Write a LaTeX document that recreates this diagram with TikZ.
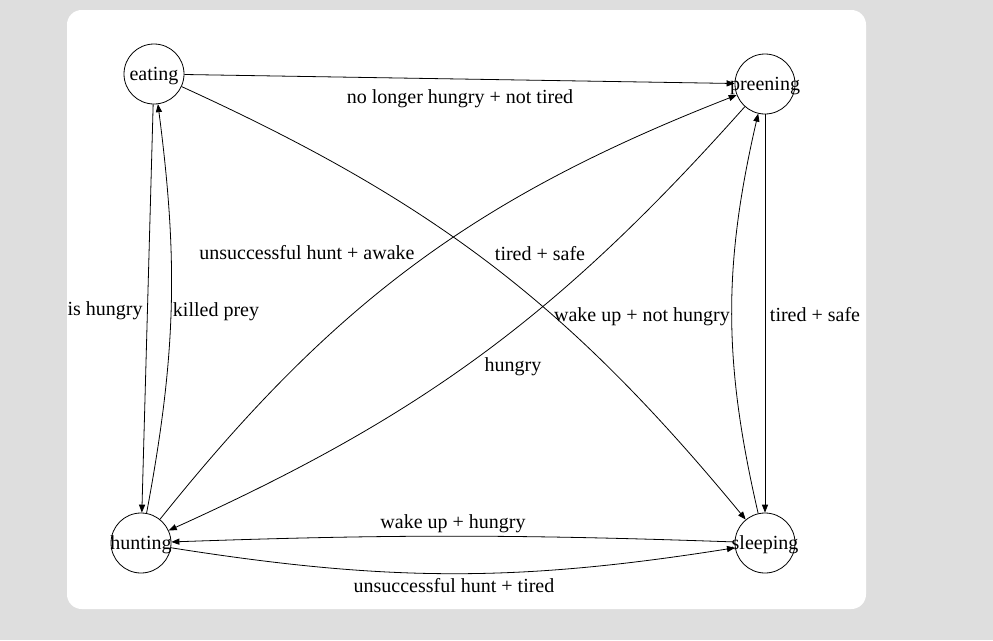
\documentclass[tikz,border=0pt]{standalone}
\usepackage{fontspec}
\setmainfont{Liberation Serif}
\usetikzlibrary{arrows.meta}
\definecolor{bggray}{RGB}{222,222,222}
\newcommand{\stname}[1]{\makebox[0pt]{#1}}

\begin{document}
\begin{tikzpicture}[
  x=0.75pt, y=0.75pt,
  font=\fontsize{15pt}{18pt}\selectfont,
  >={Triangle[length=6pt,width=4.6pt]},
  state/.style = {draw, circle, line width=0.6pt, minimum size=45pt, inner sep=0pt,
                  text height=12pt, text depth=2pt},
  trans/.style = {->, line width=0.6pt},
  lbl/.style   = {inner sep=1pt}
]
% canvas
\fill[bggray] (0,0) rectangle (993,-640);
\fill[white, rounded corners=11pt] (67,-10) rectangle (866,-609);
\useasboundingbox (0,0) rectangle (993,-640);

\node[state] (eating)   at (154,-74)  {\stname{eating}};
\node[state] (preening) at (765,-84)  {\stname{preening}};
\node[state] (hunting)  at (141,-543) {\stname{hunting}};
\node[state] (sleeping) at (765,-543) {\stname{sleeping}};

\draw[trans] (eating) -- (preening);
\draw[trans] (eating) -- (hunting);
\draw[trans] (hunting) to[bend right=9] (eating);
\draw[trans] (eating) to[bend left=13] (sleeping);
\draw[trans] (hunting) to[bend left=15] (preening);
\draw[trans] (preening) to[bend left=12] (hunting);
\draw[trans] (preening) -- (sleeping);
\draw[trans] (sleeping) to[bend left=13] (preening);
\draw[trans] (sleeping) to[bend right=2] (hunting);
\draw[trans] (hunting) to[bend right=9] (sleeping);

% edge labels
\node[lbl] (nolonger)  at (460,-99)  {no longer hungry + not tired};
\node[lbl] (unsawake)  at (307,-253) {unsuccessful hunt + awake};
\node[lbl] (tiredes)   at (540,-254) {tired + safe};
\node[lbl] (ishungry)  at (105,-311) {is hungry};
\node[lbl] (killed)    at (216,-312) {killed prey};
\node[lbl] (wakenot)   at (642,-317) {wake up + not hungry};
\node[lbl] (tiredps)   at (815,-315) {tired + safe};
\node[lbl] (hungry)    at (513,-367) {hungry};
\node[lbl] (wakehung)  at (453,-524) {wake up + hungry};
\node[lbl] (unstired)  at (454,-586) {unsuccessful hunt + tired};
\end{tikzpicture}
\end{document}
